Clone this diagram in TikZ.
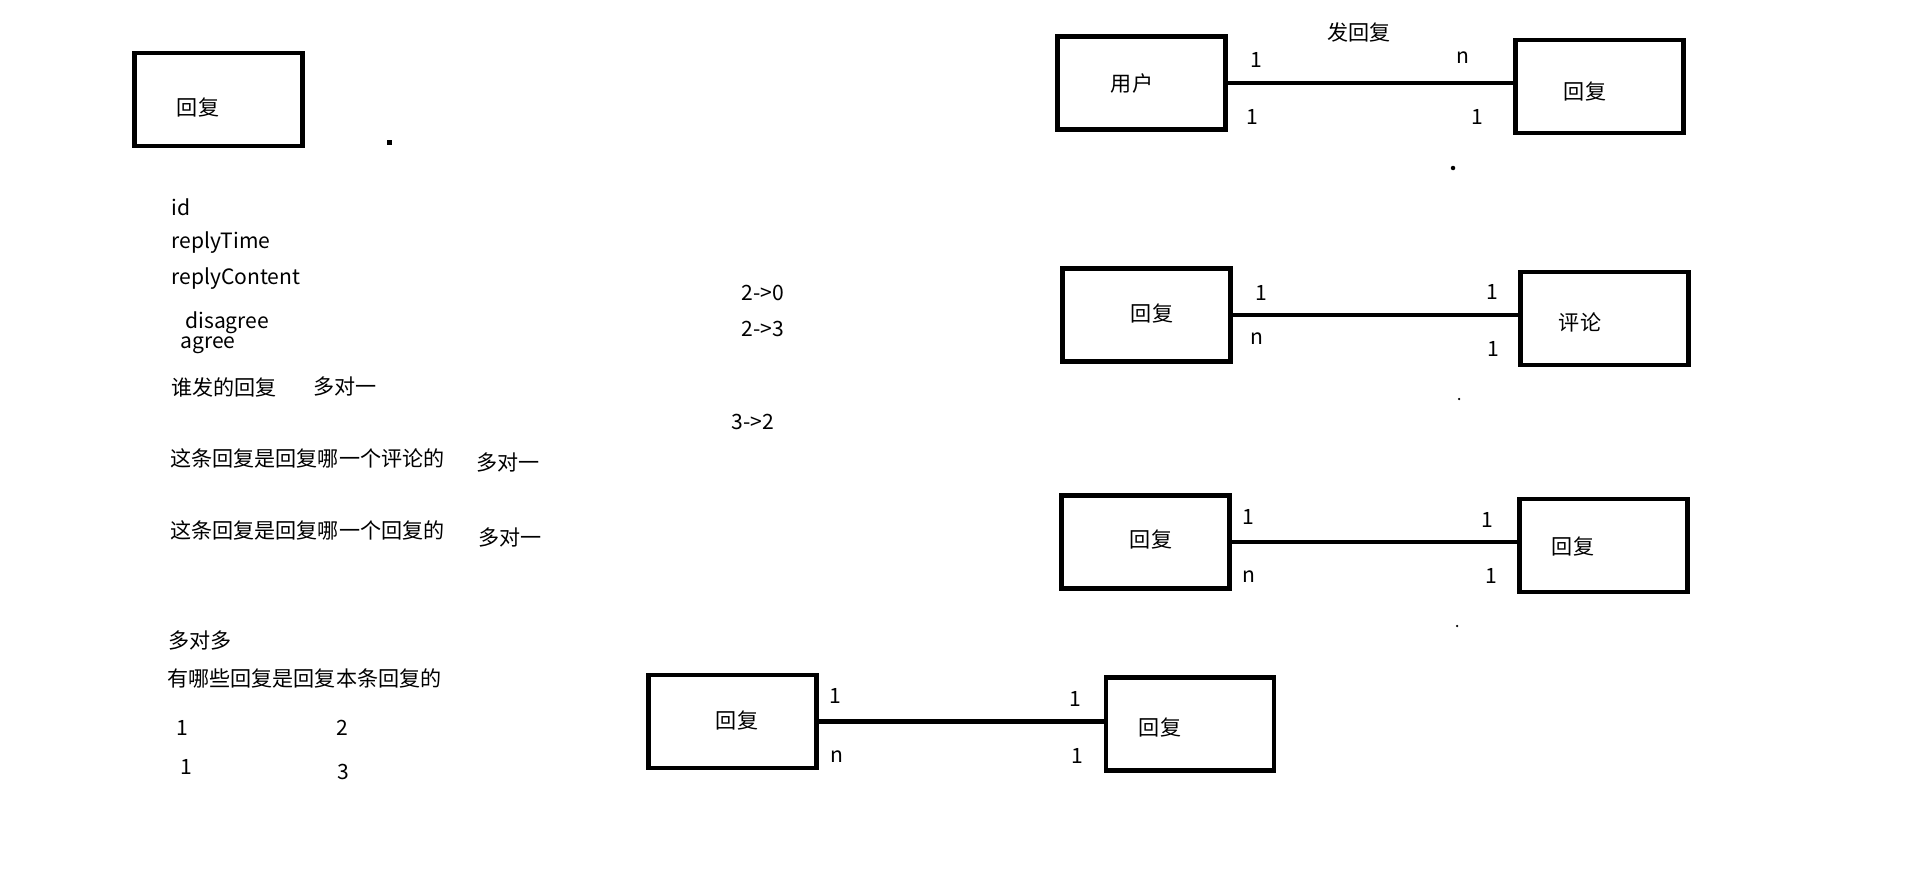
\documentclass[tikz,border=0pt]{standalone}
\usepackage{fontspec}
\setmainfont{Noto Sans CJK SC}
\usetikzlibrary{positioning}
\tikzset{
  entity/.style={draw, line width=2.7pt, minimum width=3.36cm, minimum height=1.86cm, inner sep=0pt},
  txt/.style={inner sep=0pt, font=\fontsize{12pt}{14pt}\selectfont},
  note/.style={txt, anchor=west},
  rel/.style={line width=2.4pt},
}
\begin{document}
\begin{tikzpicture}[x=0.02cm, y=-0.02cm]
    \useasboundingbox (0,0) rectangle (1909,889);
    % entity on the left with its fields
    \node[entity] (reply) at (218.5,99.5) {};
    \node[txt] (replyname) at (198,107) {回复};
    \fill (386.5,139.5) rectangle (391.5,144.5);
    \node[note] (fid) at (171,207) {id};
    \node[note] (ftime) at (171,243) {replyTime};
    \node[note] (fcontent) at (171,279) {replyContent};
    \node[note] (fdisagree) at (185,323) {disagree};
    \node[note] (fagree) at (180,345) {agree};
    \node[note] (who) at (171,387) {谁发的回复};
    \node[note] (who1) at (313,386) {多对一};
    \node[note] (tocomment) at (170,458) {这条回复是回复哪一个评论的};
    \node[note] (tocomment1) at (476,462) {多对一};
    \node[note] (toreply) at (170,530) {这条回复是回复哪一个回复的};
    \node[note] (toreply1) at (478,537) {多对一};
    \node[note] (many) at (168,640) {多对多};
    \node[note] (which) at (167,678) {有哪些回复是回复本条回复的};
    \node[txt] (ra) at (182,728) {1};
    \node[txt] (rb) at (342,728) {2};
    \node[txt] (rc) at (186,767) {1};
    \node[txt] (rd) at (343,772) {3};
    % notes in the middle
    \node[note] (m1) at (741,293) {2->0};
    \node[note] (m2) at (741,329) {2->3};
    \node[note] (m3) at (731,422) {3->2};
    % user -- reply
    \node[entity] (user) at (1141.5,83) {};
    \node[txt] at (1132,83) {用户};
    \node[entity] (reply1) at (1599.5,86.5) {};
    \node[txt] at (1585,91) {回复};
    \draw[rel] (user.east) -- (user.east -| reply1.west);
    \node[txt] (send) at (1359,32) {发回复};
    \node[txt] at (1256,60) {1};
    \node[txt] at (1463,58) {n};
    \node[txt] at (1252,117) {1};
    \node[txt] at (1477,117) {1};
    \fill (1453,168) circle (0.045cm);
    % reply -- comment
    \node[entity] (reply2) at (1146.5,315) {};
    \node[txt] at (1152,313) {回复};
    \node[entity] (comment) at (1604.5,318.5) {};
    \node[txt] at (1580,322) {评论};
    \draw[rel] (reply2.east) -- (reply2.east -| comment.west);
    \node[txt] at (1261,293) {1};
    \node[txt] at (1257,339) {n};
    \node[txt] at (1492,292) {1};
    \node[txt] at (1493,349) {1};
    \fill (1459,399) circle (0.025cm);
    % reply -- reply
    \node[entity] (reply3) at (1145.5,542) {};
    \node[txt] at (1151,539) {回复};
    \node[entity] (reply4) at (1603.5,545.5) {};
    \node[txt] at (1573,546) {回复};
    \draw[rel] (reply3.east) -- (reply3.east -| reply4.west);
    \node[txt] at (1248,517) {1};
    \node[txt] at (1249,577) {n};
    \node[txt] at (1487,520) {1};
    \node[txt] at (1491,576) {1};
    \fill (1457,626) circle (0.025cm);
    % reply -- reply (bottom)
    \node[entity] (reply5) at (732.5,721.5) {};
    \node[txt] at (737,720) {回复};
    \node[entity] (reply6) at (1190,724) {};
    \node[txt] at (1160,727) {回复};
    \draw[rel] (reply5.east) -- (reply5.east -| reply6.west);
    \node[txt] at (835,696) {1};
    \node[txt] at (837,757) {n};
    \node[txt] at (1075,699) {1};
    \node[txt] at (1077,756) {1};
\end{tikzpicture}
\end{document}
